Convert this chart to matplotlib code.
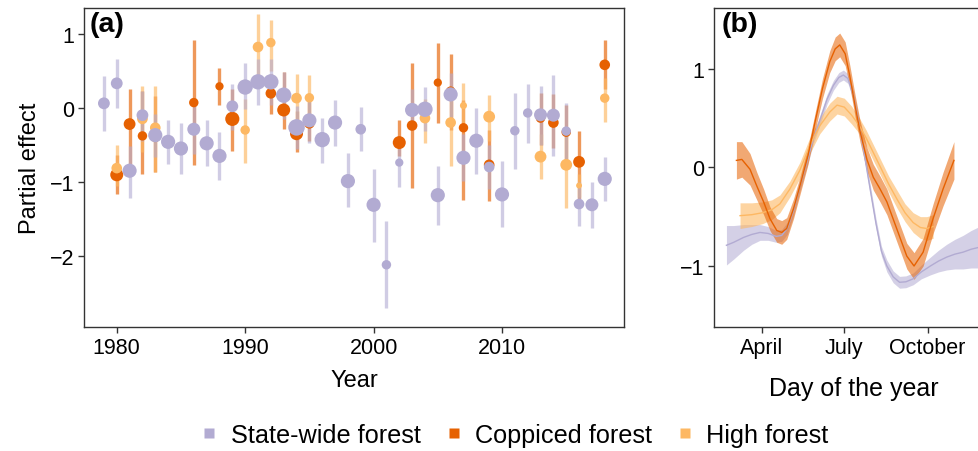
import matplotlib
matplotlib.use("Agg")
import matplotlib.pyplot as plt
from matplotlib.lines import Line2D
import numpy as np

plt.rcParams['font.family'] = ['Liberation Sans', 'DejaVu Sans']

# colours (PuOr)
c_state = '#b2abd2'
c_copp = '#e66101'
c_high = '#fdb863'

# ---------------- panel (a): yearly partial effects ----------------
state_years = list(range(1979, 2019))
state_val = [0.06, 0.33, -0.85, -0.10, -0.37, -0.46, -0.55, -0.29, -0.48, -0.65,
             0.02, 0.28, 0.35, 0.35, 0.17, -0.265, -0.17, -0.43, -0.20, -0.99,
             -0.29, -1.31, -2.12, -0.74, -0.03, -0.02, -1.18, 0.18, -0.675, -0.445,
             -0.80, -1.17, -0.31, -0.07, -0.095, -0.10, -0.315, -1.30, -1.31, -0.96]
state_hi = [0.43, 0.66, -0.51, 0.23, -0.085, -0.17, -0.20, 0.05, -0.17, -0.33,
            0.32, 0.60, 0.66, 0.66, 0.48, 0.02, 0.16, -0.14, 0.10, -0.61,
            0.01, -0.83, -1.53, -0.42, 0.25, 0.28, -0.78, 0.47, -0.36, 0.0,
            -0.50, -0.72, 0.20, 0.32, 0.30, 0.44, 0.06, -1.00, -1.00, -0.66]
state_lo = [-0.32, 0.0, -1.22, -0.45, -0.67, -0.76, -0.90, -0.62, -0.78, -0.97,
            -0.30, -0.02, 0.04, 0.04, -0.15, -0.55, -0.47, -0.74, -0.51, -1.34,
            -0.59, -1.81, -2.71, -1.07, -0.30, -0.32, -1.58, -0.12, -0.99, -0.90,
            -1.10, -1.61, -0.83, -0.47, -0.50, -0.65, -0.70, -1.60, -1.63, -1.26]
state_n = [10, 10, 12, 10, 12, 12, 12, 11, 12, 12, 10, 13, 13, 13, 13, 14, 12, 13, 12, 12,
           9, 12, 8, 7, 12, 13, 12, 12, 12, 12, 9, 12, 8, 8, 11, 11, 8, 9, 11, 12]

copp_years = [1980, 1981, 1982, 1983, 1986, 1988, 1989, 1992, 1993, 1994, 1995,
              2002, 2003, 2005, 2006, 2007, 2009, 2013, 2014, 2015, 2016, 2018]
copp_val = [-0.905, -0.22, -0.38, -0.40, 0.07, 0.29, -0.15, 0.195, -0.03, -0.35, -0.21,
            -0.47, -0.24, 0.34, 0.225, -0.27, -0.77, -0.14, -0.20, -0.33, -0.73, 0.58]
copp_hi = [-0.64, 0.25, 0.23, 0.16, 0.91, 0.54, 0.25, 0.45, 0.48, -0.05, 0.10,
           -0.16, 0.60, 0.87, 0.73, 0.10, -0.30, 0.20, 0.18, 0.04, -0.31, 0.92]
copp_lo = [-1.17, -0.90, -0.90, -0.87, -0.77, 0.04, -0.58, -0.09, -0.28, -0.60, -0.45,
           -0.65, -1.09, -0.20, -0.30, -1.24, -1.26, -0.50, -0.54, -0.72, -1.23, 0.25]
copp_n = [11, 10, 8, 8, 8, 7, 12, 9, 11, 11, 9, 11, 9, 7, 8, 8, 9, 8, 9, 8, 10, 9]

high_years = [1980, 1982, 1983, 1990, 1991, 1992, 1994, 1995, 2004, 2006, 2007,
              2009, 2013, 2015, 2016, 2018]
high_val = [-0.815, -0.15, -0.27, -0.30, 0.82, 0.88, 0.13, 0.135, -0.14, -0.20, 0.03,
            -0.12, -0.66, -0.77, -1.05, 0.13]
high_hi = [-0.50, 0.29, 0.29, 0.12, 1.27, 1.19, 0.46, 0.44, 0.12, 0.30, 0.34,
           0.17, -0.35, -0.30, -0.90, 0.40]
high_lo = [-1.06, -0.60, -0.87, -0.74, 0.40, 0.50, -0.20, -0.20, -0.47, -0.78, -0.30,
           -0.45, -0.96, -1.36, -1.20, -0.19]
high_n = [9, 9, 9, 8, 9, 8, 9, 8, 9, 9, 6, 10, 10, 10, 5, 8]

# ---------------- panel (b): seasonal smooths ----------------
state_day = [52, 60, 71, 80, 89, 98, 107, 113, 119, 126, 133, 141, 148, 156, 163, 170,
             176, 181, 186, 192, 197, 203, 210, 217, 223, 229, 236, 243, 250, 258,
             267, 277, 286, 295, 304, 313, 322, 331, 340]
state_fit = [-0.79, -0.76, -0.71, -0.68, -0.66, -0.67, -0.70, -0.69, -0.62, -0.44,
             -0.19, 0.06, 0.29, 0.50, 0.69, 0.83, 0.91, 0.935, 0.90, 0.73, 0.50,
             0.19, -0.19, -0.57, -0.85, -1.00, -1.11, -1.165, -1.16, -1.13, -1.06,
             -1.00, -0.95, -0.91, -0.88, -0.86, -0.83, -0.81, -0.79]
state_se = [0.20, 0.17, 0.13, 0.10, 0.08, 0.07, 0.06, 0.06, 0.06, 0.05, 0.05, 0.05,
            0.05, 0.05, 0.05, 0.05, 0.05, 0.05, 0.05, 0.05, 0.05, 0.05, 0.05, 0.05,
            0.05, 0.06, 0.06, 0.06, 0.06, 0.06, 0.07, 0.09, 0.11, 0.13, 0.15, 0.17,
            0.19, 0.21, 0.23]

copp_day = [63, 69, 78, 85.5, 93, 100, 107.5, 113, 118.5, 126, 133, 142, 150, 158,
            166, 172, 177, 183, 188, 194, 199.5, 207, 214, 221.5, 229, 240, 251, 259,
            269, 280, 291, 303]
copp_fit = [0.07, 0.08, -0.02, -0.19, -0.35, -0.52, -0.64, -0.66, -0.62, -0.42,
            -0.19, 0.12, 0.47, 0.80, 1.07, 1.20, 1.24, 1.15, 0.93, 0.62, 0.36, 0.08,
            -0.10, -0.22, -0.35, -0.625, -0.90, -1.00, -0.86, -0.52, -0.22, 0.07]
copp_se = [0.19, 0.18, 0.16, 0.14, 0.13, 0.12, 0.12, 0.12, 0.11, 0.10, 0.09, 0.09,
           0.09, 0.10, 0.11, 0.12, 0.12, 0.12, 0.11, 0.11, 0.11, 0.12, 0.13, 0.13,
           0.13, 0.13, 0.13, 0.135, 0.14, 0.15, 0.17, 0.19]

high_day = [67, 80, 92, 102, 111, 122, 133, 144, 155, 166, 174, 182, 190, 198, 206,
            214, 222, 231, 240, 249, 258, 266, 273, 280]
high_fit = [-0.49, -0.48, -0.46, -0.43, -0.37, -0.22, -0.03, 0.22, 0.42, 0.56, 0.63,
            0.61, 0.53, 0.43, 0.30, 0.15, 0.00, -0.17, -0.32, -0.46, -0.56, -0.61,
            -0.62, -0.60]
high_se = [0.13, 0.12, 0.11, 0.10, 0.09, 0.08, 0.08, 0.08, 0.08, 0.09, 0.09, 0.09,
           0.09, 0.08, 0.08, 0.08, 0.08, 0.08, 0.09, 0.09, 0.10, 0.11, 0.12, 0.12]

month_ticks = [91, 182, 274]
month_labels = ['April', 'July', 'October']

W, H = 979, 452
fig = plt.figure(figsize=(W / 100, H / 100), dpi=100)

ax_l, ax_b, ax_t = 84 / W, 1 - 328 / H, 1 - 9 / H
ax1 = fig.add_axes([ax_l, ax_b, 624 / W - ax_l, ax_t - ax_b])
ax2 = fig.add_axes([714.3 / W, ax_b, 992 / W - 714.3 / W, ax_t - ax_b])

tick_fs = 15.5
lab_fs = 17


def style_axes(ax):
    for s in ax.spines.values():
        s.set_color('#333333')
        s.set_linewidth(1.0)
    ax.tick_params(direction='out', length=4, width=1, color='#333333',
                   labelsize=tick_fs, labelcolor='black', pad=3)


def draw_series(ax, yrs, val, lo, hi, sz, col, bar_alpha):
    ax.vlines(yrs, lo, hi, colors=col, alpha=bar_alpha, linewidth=2.4, zorder=2)
    ax.scatter(yrs, val, s=(np.array(sz) * 0.85) ** 2, color=col, edgecolors='none',
               zorder=3)


draw_series(ax1, copp_years, copp_val, copp_lo, copp_hi, copp_n, c_copp, 0.65)
draw_series(ax1, high_years, high_val, high_lo, high_hi, high_n, c_high, 0.65)
draw_series(ax1, state_years, state_val, state_lo, state_hi, state_n, c_state, 0.6)

ax1.set_xlim(1977.45, 2019.5)
ax1.set_ylim(-2.96, 1.347)
ax1.set_xticks([1980, 1990, 2000, 2010])
ax1.set_yticks([1, 0, -1, -2])
ax1.set_yticklabels(['1', '0', '\u22121', '\u22122'])
ax1.set_xlabel('Year', fontsize=lab_fs, labelpad=8)
ax1.set_ylabel('Partial effect', fontsize=lab_fs, labelpad=6)
style_axes(ax1)
ax1.text(0.01, 0.99, '(a)', transform=ax1.transAxes, fontsize=20.5,
         fontweight='bold', va='top', ha='left')

for d, f, se, col, a in [(state_day, state_fit, state_se, c_state, 0.55),
                         (high_day, high_fit, high_se, c_high, 0.6),
                         (copp_day, copp_fit, copp_se, c_copp, 0.55)]:
    d = np.array(d)
    f = np.array(f)
    se = np.array(se)
    ax2.fill_between(d, f - se, f + se, color=col, alpha=a, linewidth=0)
    ax2.plot(d, f, color=col, linewidth=1.0)

ax2.set_xlim(38.6, 345)
ax2.set_ylim(-1.618, 1.614)
ax2.set_xticks(month_ticks)
ax2.set_xticklabels(month_labels)
ax2.set_yticks([1, 0, -1])
ax2.set_yticklabels(['1', '0', '\u22121'])
style_axes(ax2)
ax2.spines['right'].set_visible(False)
ax2.text(0.025, 0.99, '(b)', transform=ax2.transAxes, fontsize=20.5,
         fontweight='bold', va='top', ha='left')
fig.text(854 / W, 1 - 389 / H, 'Day of the year', fontsize=18,
         ha='center', va='center')

handles = [Line2D([], [], marker='s', linestyle='none', markersize=7.5,
                  markerfacecolor=c, markeredgecolor='none')
           for c in (c_state, c_copp, c_high)]
fig.legend(handles, ['State-wide forest', 'Coppiced forest', 'High forest'],
           loc='center', bbox_to_anchor=(514 / W, 1 - 436 / H), ncol=3,
           frameon=False, fontsize=18.2, handletextpad=0.45, columnspacing=0.9,
           handlelength=0.8, borderaxespad=0)

fig.savefig('out.png', dpi=100)
